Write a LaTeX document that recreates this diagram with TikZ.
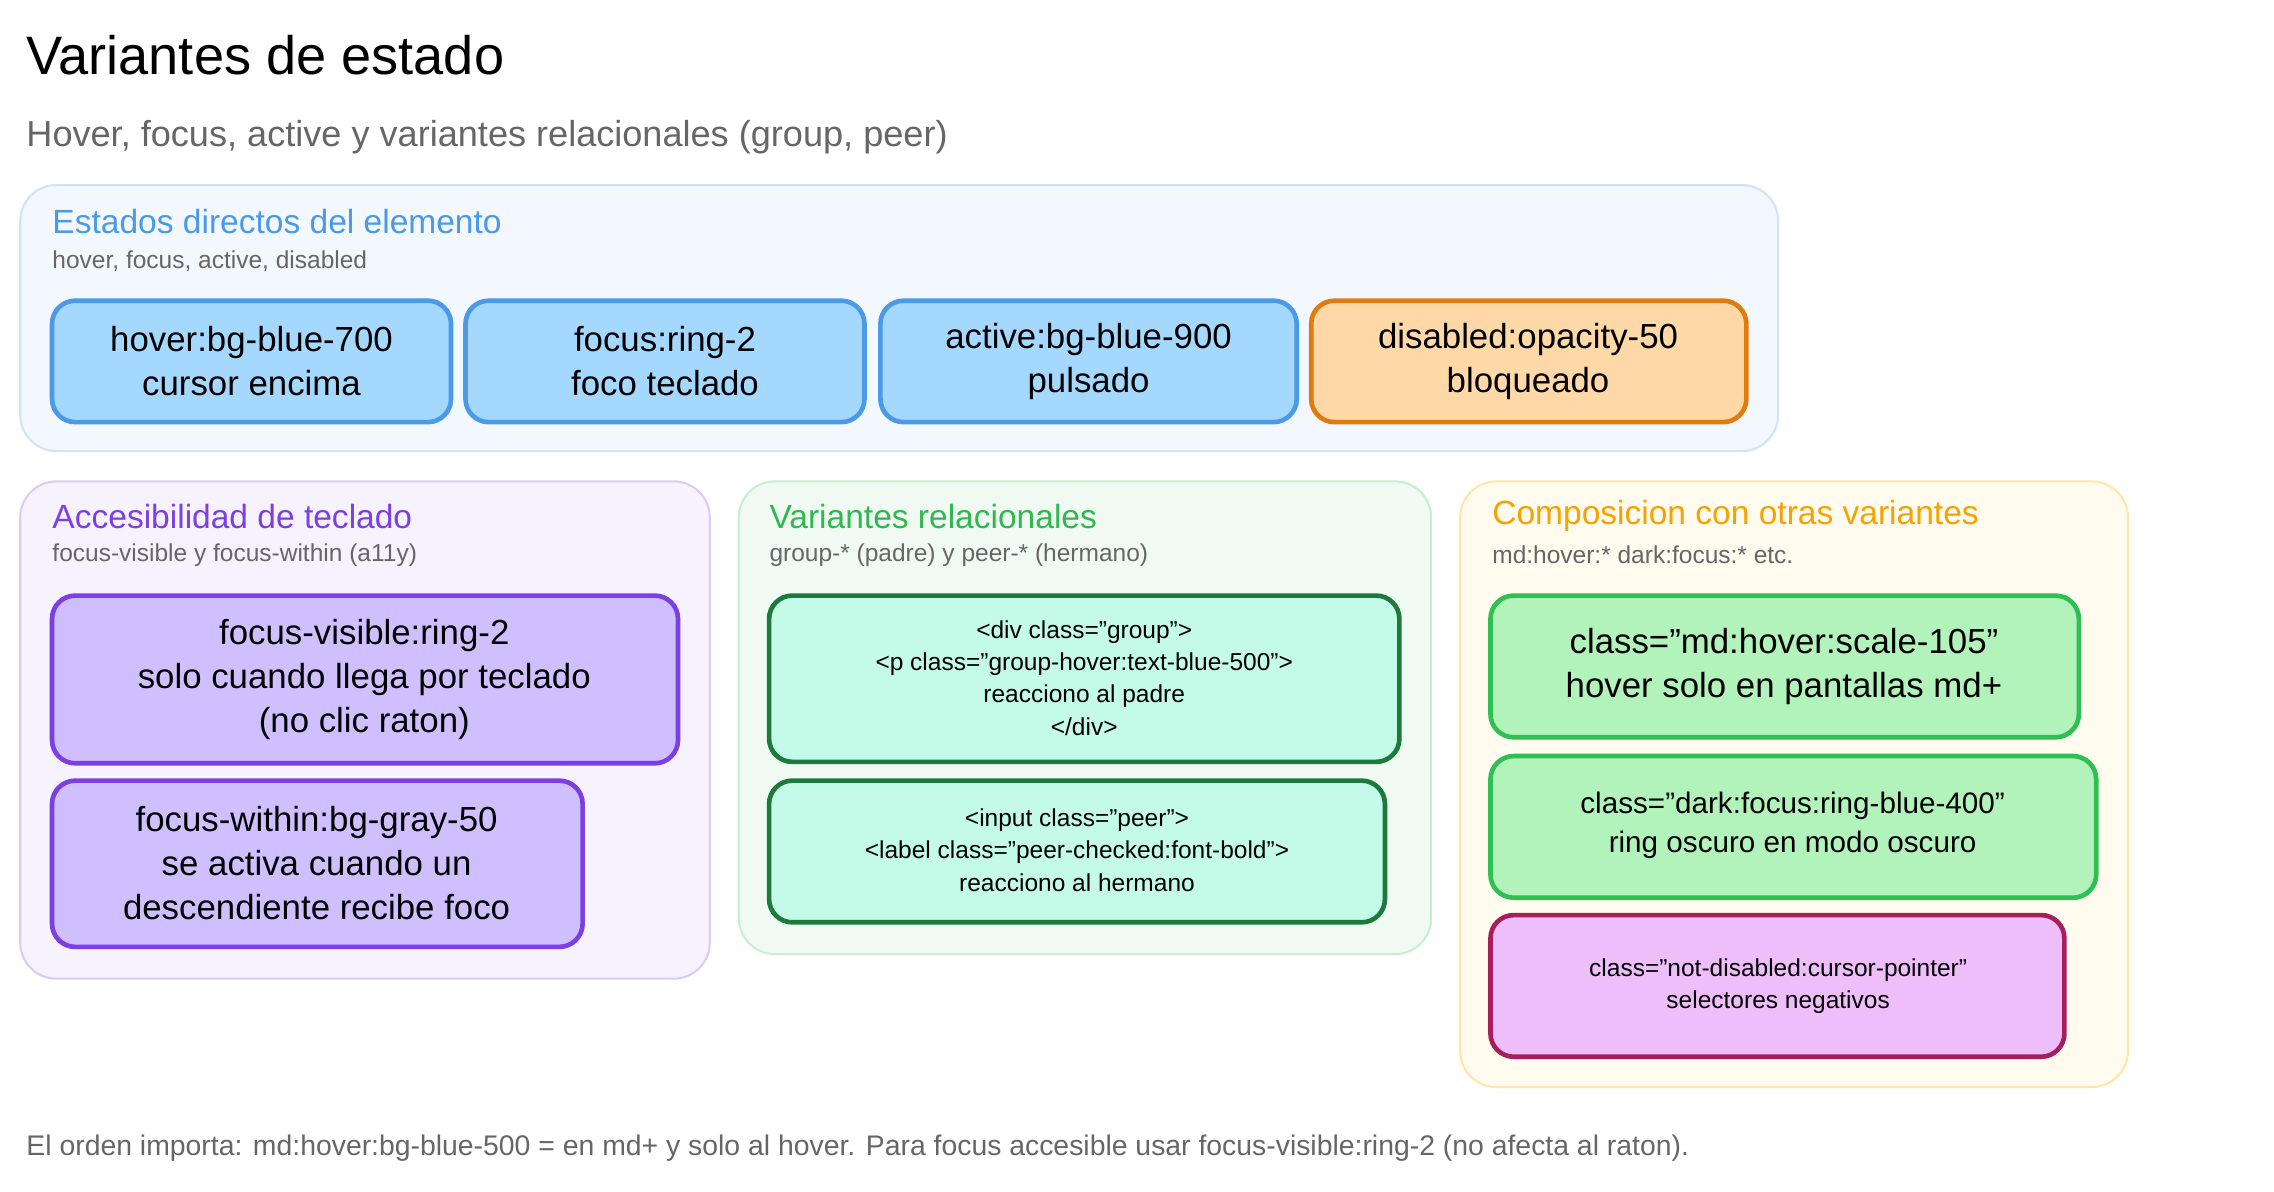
\documentclass[tikz,border=0pt]{standalone}
\usepackage{fontspec}
\setmainfont{Liberation Sans}
\usepackage{tikz}
\definecolor{grpblue}{HTML}{F3F7FE}
\definecolor{grpblueb}{HTML}{CFE3FA}
\definecolor{grppurple}{HTML}{F6F3FE}
\definecolor{grppurpleb}{HTML}{D8CCF8}
\definecolor{grpgreen}{HTML}{F0FAF3}
\definecolor{grpgreenb}{HTML}{C6EED3}
\definecolor{grpyellow}{HTML}{FFFBEE}
\definecolor{grpyellowb}{HTML}{FDE6A8}
\definecolor{ttlblue}{HTML}{4A9AE8}
\definecolor{ttlpurple}{HTML}{7B3FE4}
\definecolor{ttlgreen}{HTML}{2FB84F}
\definecolor{ttlorange}{HTML}{F5A300}
\definecolor{subgray}{HTML}{666666}
\definecolor{fillblue}{HTML}{A5D8FF}
\definecolor{fillorange}{HTML}{FFD8A8}
\definecolor{lineorange}{HTML}{E07B0D}
\definecolor{fillpurple}{HTML}{D0BFFF}
\definecolor{fillmint}{HTML}{C3FAE8}
\definecolor{linemint}{HTML}{1B7A3C}
\definecolor{fillgreen}{HTML}{B2F2BB}
\definecolor{linegreen}{HTML}{2FBF52}
\definecolor{fillpink}{HTML}{EEBEFA}
\definecolor{linepink}{HTML}{A61E5B}
\tikzset{
  grp/.style={draw=#1, line width=0.8pt, rounded corners=14pt},
  box/.style={draw=#1, line width=1.8pt, rounded corners=9pt},
  gtitle/.style={anchor=west, font=\fontsize{13}{15}\selectfont},
  gsub/.style={anchor=west, text=subgray, font=\fontsize{9.5}{11}\selectfont},
  lbl/.style={align=center, font=\fontsize{13.5}{17}\selectfont},
  code/.style={align=center, font=\fontsize{9.5}{12.5}\selectfont},
}
\begin{document}
\begin{tikzpicture}[x=0.0197cm, y=-0.0197cm]
  \path[use as bounding box] (0,0) rectangle (1573,824);

  \node[anchor=west, font=\fontsize{21}{24}\selectfont] (title) at (12,38) {Variantes de estado};
  \node[anchor=west, text=subgray, font=\fontsize{14}{16}\selectfont] (subtitle) at (12,95) {Hover, focus, active y variantes relacionales (group, peer)};

  % estados directos
  \draw[grp=grpblueb, fill=grpblue] (14,128) rectangle (1230,312);
  \node[gtitle, text=ttlblue] (g1title) at (30,153) {Estados directos del elemento};
  \node[gsub] (g1sub) at (30,181) {hover, focus, active, disabled};
  \draw[box=ttlblue, fill=fillblue] (36,208) rectangle (312,292);
  \node[lbl] (hover) at (174,250) {hover:bg-blue-700\\cursor encima};
  \draw[box=ttlblue, fill=fillblue] (322,208) rectangle (598,292);
  \node[lbl] (focus) at (460,250) {focus:ring-2\\foco teclado};
  \draw[box=ttlblue, fill=fillblue] (609,208) rectangle (897,292);
  \node[lbl] (active) at (753,250) {active:bg-blue-900\\pulsado};
  \draw[box=lineorange, fill=fillorange] (907,208) rectangle (1208,292);
  \node[lbl] (disabled) at (1057,250) {disabled:opacity-50\\bloqueado};

  % accesibilidad
  \draw[grp=grppurpleb, fill=grppurple] (14,333) rectangle (491,677);
  \node[gtitle, text=ttlpurple] (g2title) at (30,357) {Accesibilidad de teclado};
  \node[gsub] (g2sub) at (30,384) {focus-visible y focus-within (a11y)};
  \draw[box=ttlpurple, fill=fillpurple] (36,412) rectangle (469,528);
  \node[lbl] (visible) at (252,470) {focus-visible:ring-2\\solo cuando llega por teclado\\(no clic raton)};
  \draw[box=ttlpurple, fill=fillpurple] (36,540) rectangle (403,655);
  \node[lbl] (within) at (219,597) {focus-within:bg-gray-50\\se activa cuando un\\descendiente recibe foco};

  % relacionales
  \draw[grp=grpgreenb, fill=grpgreen] (511,333) rectangle (990,660);
  \node[gtitle, text=ttlgreen] (g3title) at (526,357) {Variantes relacionales};
  \node[gsub] (g3sub) at (526,384) {group-* (padre) y peer-* (hermano)};
  \draw[box=linemint, fill=fillmint] (532,412) rectangle (968,527);
  \node[code] (group) at (750,469) {<div class="group">\\<p class="group-hover:text-blue-500">\\reacciono al padre\\</div>};
  \draw[box=linemint, fill=fillmint] (532,540) rectangle (958,638);
  \node[code] (peer) at (745,588) {<input class="peer">\\<label class="peer-checked:font-bold">\\reacciono al hermano};

  % composicion
  \draw[grp=grpyellowb, fill=grpyellow] (1010,333) rectangle (1472,752);
  \node[gtitle, text=ttlorange] (g4title) at (1026,357) {Composicion con otras variantes};
  \node[gsub] (g4sub) at (1026,384) {md:hover:* dark:focus:* etc.};
  \draw[box=linegreen, fill=fillgreen] (1031,412) rectangle (1438,510);
  \node[lbl] (md) at (1234,461) {class="md:hover:scale-105"\\hover solo en pantallas md+};
  \draw[box=linegreen, fill=fillgreen] (1031,523) rectangle (1450,621);
  \node[lbl, font=\fontsize{11.5}{15}\selectfont] (dark) at (1240,571) {class="dark:focus:ring-blue-400"\\ring oscuro en modo oscuro};
  \draw[box=linepink, fill=fillpink] (1031,633) rectangle (1428,731);
  \node[code] (notdis) at (1230,682) {class="not-disabled:cursor-pointer"\\selectores negativos};

  \node[anchor=west, text=subgray, font=\fontsize{11}{13}\selectfont] (footer) at (12,794) {El orden importa: md:hover:bg-blue-500 = en md+ y solo al hover. Para focus accesible usar focus-visible:ring-2 (no afecta al raton).};
\end{tikzpicture}
\end{document}
